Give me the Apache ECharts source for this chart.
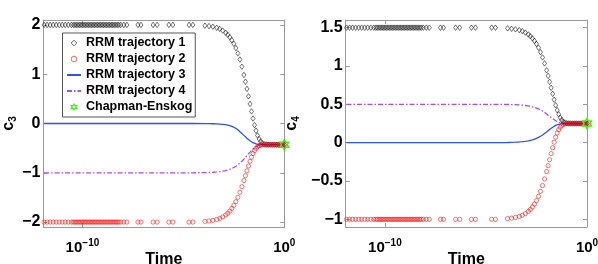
<!DOCTYPE html>
<html>
<head>
<meta charset="utf-8">
<script src="https://cdn.jsdelivr.net/npm/echarts@6/dist/echarts.min.js"></script>
<style>
html,body{margin:0;padding:0;background:#fff;}
#chart{width:598px;height:264px;}
</style>
</head>
<body>
<div id="chart"></div>
<script>
// ---- data ----
const time = [
  1.26e-12, 1.78e-12, 2.51e-12, 3.55e-12, 5.01e-12, 7.08e-12, 1.0e-11, 1.41e-11, 2.0e-11, 2.82e-11,
  3.55e-11, 4.22e-11, 5.01e-11, 5.96e-11, 7.08e-11, 8.41e-11, 1.0e-10, 1.19e-10, 1.41e-10, 1.68e-10,
  2.0e-10, 2.37e-10, 2.82e-10, 3.35e-10, 3.98e-10, 4.73e-10, 5.62e-10, 6.68e-10, 7.94e-10, 9.44e-10,
  1.12e-9, 1.33e-9, 1.58e-9, 1.88e-9, 2.24e-9, 2.66e-9, 3.16e-9, 3.76e-9, 4.47e-9, 5.31e-9, 6.31e-9,
  7.94e-9, 1.12e-8, 1.58e-8,
  5.62e-8, 7.94e-8, 3.16e-7, 5.01e-7, 1.91e-6, 3.02e-6, 1.91e-5, 2.95e-5,
  1.17e-4, 1.86e-4, 2.88e-4,
  4.47e-4, 6.31e-4, 8.91e-4, 1.26e-3, 1.58e-3, 2.0e-3, 2.51e-3, 3.16e-3, 3.98e-3, 5.01e-3,
  6.31e-3, 7.94e-3, 0.01, 0.0119, 0.0141, 0.0168, 0.02, 0.0237, 0.0282, 0.0335,
  0.0398, 0.0473, 0.0562, 0.0668, 0.0794, 0.1,
  0.126, 0.158, 0.2, 0.251, 0.316, 0.398, 0.501, 0.631, 0.794, 1.0
];

const c3Traj1 = [
  2,2,2,2,2,2,2,2,2,2, 2,2,2,2,2,2,2,2,2,2, 2,2,2,2,2,2,2,2,2,2, 2,2,2,2,2,2,2,2,2,2, 2,2,2,2, 2,2,2,2,2,2,2,2,
  1.985, 1.976, 1.963,
  1.942, 1.919, 1.886, 1.840, 1.800, 1.752, 1.691, 1.618, 1.530, 1.423,
  1.298, 1.152, 0.985, 0.848, 0.702, 0.551, 0.396, 0.245, 0.100, -0.033,
  -0.147, -0.242, -0.314, -0.364, -0.397, -0.419,
  -0.427, -0.43, -0.43, -0.43, -0.43, -0.43, -0.43, -0.43, -0.43, -0.43
];
const c3Traj2 = [
  -2,-2,-2,-2,-2,-2,-2,-2,-2,-2, -2,-2,-2,-2,-2,-2,-2,-2,-2,-2, -2,-2,-2,-2,-2,-2,-2,-2,-2,-2, -2,-2,-2,-2,-2,-2,-2,-2,-2,-2, -2,-2,-2,-2, -2,-2,-2,-2,-2,-2,-2,-2,
  -1.986, -1.978, -1.966,
  -1.947, -1.926, -1.896, -1.855, -1.820, -1.777, -1.724, -1.661, -1.586, -1.498,
  -1.396, -1.282, -1.158, -1.059, -0.960, -0.862, -0.768, -0.683, -0.610, -0.549,
  -0.503, -0.471, -0.451, -0.439, -0.433, -0.431,
  -0.43, -0.43, -0.43, -0.43, -0.43, -0.43, -0.43, -0.43, -0.43, -0.43
];
const c3Traj3 = [
  0,0,0,0,0,0,0,0,0,0, 0,0,0,0,0,0,0,0,0,0, 0,0,0,0,0,0,0,0,0,0, 0,0,0,0,0,0,0,0,0,0, 0,0,0,0, 0,0,0,0,0,0,0,0,
  -0.002, -0.003, -0.005,
  -0.008, -0.011, -0.016, -0.024, -0.032, -0.043, -0.057, -0.075, -0.098, -0.128,
  -0.168, -0.205, -0.241, -0.270, -0.298, -0.324, -0.349, -0.370, -0.389, -0.404,
  -0.414, -0.422, -0.426, -0.428, -0.429, -0.43,
  -0.43, -0.43, -0.43, -0.43, -0.43, -0.43, -0.43, -0.43, -0.43, -0.43
];
const c3Traj4 = [
  -1,-1,-1,-1,-1,-1,-1,-1,-1,-1, -1,-1,-1,-1,-1,-1,-1,-1,-1,-1, -1,-1,-1,-1,-1,-1,-1,-1,-1,-1, -1,-1,-1,-1,-1,-1,-1,-1,-1,-1, -1,-1,-1,-1, -1,-1,-1,-1,-1,-1,-1,-1,
  -0.996, -0.993, -0.989,
  -0.983, -0.977, -0.967, -0.954, -0.943, -0.929, -0.912, -0.892, -0.867, -0.838,
  -0.804, -0.766, -0.723, -0.688, -0.652, -0.616, -0.581, -0.547, -0.517, -0.491,
  -0.470, -0.454, -0.443, -0.437, -0.433, -0.431,
  -0.43, -0.43, -0.43, -0.43, -0.43, -0.43, -0.43, -0.43, -0.43, -0.43
];

const c4Traj1 = [
  1.5,1.5,1.5,1.5,1.5,1.5,1.5,1.5,1.5,1.5, 1.5,1.5,1.5,1.5,1.5,1.5,1.5,1.5,1.5,1.5, 1.5,1.5,1.5,1.5,1.5,1.5,1.5,1.5,1.5,1.5, 1.5,1.5,1.5,1.5,1.5,1.5,1.5,1.5,1.5,1.5, 1.5,1.5,1.5,1.5, 1.5,1.5,1.5,1.5,1.5,1.5,1.5,1.5,
  1.491, 1.486, 1.479,
  1.468, 1.455, 1.436, 1.411, 1.389, 1.361, 1.328, 1.288, 1.239, 1.181,
  1.112, 1.034, 0.944, 0.871, 0.794, 0.716, 0.637, 0.560, 0.488, 0.424,
  0.370, 0.327, 0.296, 0.275, 0.262, 0.254,
  0.251, 0.25, 0.25, 0.25, 0.25, 0.25, 0.25, 0.25, 0.25, 0.25
];
const c4Traj2 = [
  -1,-1,-1,-1,-1,-1,-1,-1,-1,-1, -1,-1,-1,-1,-1,-1,-1,-1,-1,-1, -1,-1,-1,-1,-1,-1,-1,-1,-1,-1, -1,-1,-1,-1,-1,-1,-1,-1,-1,-1, -1,-1,-1,-1, -1,-1,-1,-1,-1,-1,-1,-1,
  -0.990, -0.984, -0.975,
  -0.962, -0.947, -0.926, -0.896, -0.871, -0.839, -0.801, -0.755, -0.700, -0.635,
  -0.559, -0.473, -0.377, -0.301, -0.222, -0.143, -0.066, 0.006, 0.071, 0.126,
  0.170, 0.202, 0.224, 0.238, 0.245, 0.249,
  0.25, 0.25, 0.25, 0.25, 0.25, 0.25, 0.25, 0.25, 0.25, 0.25
];
const c4Traj3 = [
  0,0,0,0,0,0,0,0,0,0, 0,0,0,0,0,0,0,0,0,0, 0,0,0,0,0,0,0,0,0,0, 0,0,0,0,0,0,0,0,0,0, 0,0,0,0, 0,0,0,0,0,0,0,0,
  0.002, 0.004, 0.006,
  0.009, 0.013, 0.018, 0.024, 0.030, 0.037, 0.046, 0.057, 0.069, 0.084,
  0.100, 0.119, 0.139, 0.155, 0.171, 0.186, 0.201, 0.214, 0.225, 0.234,
  0.240, 0.245, 0.247, 0.249, 0.2496, 0.25,
  0.25, 0.25, 0.25, 0.25, 0.25, 0.25, 0.25, 0.25, 0.25, 0.25
];
const c4Traj4 = [
  0.5,0.5,0.5,0.5,0.5,0.5,0.5,0.5,0.5,0.5, 0.5,0.5,0.5,0.5,0.5,0.5,0.5,0.5,0.5,0.5, 0.5,0.5,0.5,0.5,0.5,0.5,0.5,0.5,0.5,0.5, 0.5,0.5,0.5,0.5,0.5,0.5,0.5,0.5,0.5,0.5, 0.5,0.5,0.5,0.5, 0.5,0.5,0.5,0.5,0.5,0.5,0.5,0.5,
  0.498, 0.497, 0.495,
  0.492, 0.489, 0.485, 0.479, 0.474, 0.468, 0.460, 0.451, 0.440, 0.427,
  0.412, 0.395, 0.375, 0.360, 0.344, 0.329, 0.313, 0.299, 0.286, 0.275,
  0.266, 0.260, 0.255, 0.253, 0.251, 0.250,
  0.25, 0.25, 0.25, 0.25, 0.25, 0.25, 0.25, 0.25, 0.25, 0.25
];

const ceTime = [1.0];
const c3CE = [-0.43];
const c4CE = [0.25];

const seriesNames = ['RRM trajectory 1', 'RRM trajectory 2', 'RRM trajectory 3', 'RRM trajectory 4', 'Chapman-Enskog'];
const c3Ticks = [-2, -1, 0, 1, 2];
const c4Ticks = [-1, -0.5, 0, 0.5, 1, 1.5];
const xTicks = [1e-10, 1];

// ---- chart ----
const FONT = '"Liberation Sans", Arial, Helvetica, sans-serif';
const AXIS_GRAY = '#9a9a9a';
const X_MIN = 1.15e-12, X_MAX = 1;
const HEX = 'path://M0,-10L-2.89,-5L-8.66,-5L-5.77,0L-8.66,5L-2.89,5L0,10L2.89,5L8.66,5L5.77,0L8.66,-5L2.89,-5Z';
const GREEN = '#44ee11';

function pairs(xs, ys) { return xs.map((x, i) => [x, ys[i]]); }
function minus(s) { return String(s).replace('-', '\u2212'); }

function mkX(grid, pos, labels) {
  return {
    type: 'log', logBase: 1e10, gridIndex: grid, position: pos,
    min: X_MIN, max: X_MAX,
    axisLine: { show: true, onZero: false, lineStyle: { color: AXIS_GRAY, width: 1 } },
    axisTick: { show: true, inside: true, length: 4, lineStyle: { color: AXIS_GRAY } },
    minorTick: { show: false }, splitLine: { show: false },
    axisLabel: labels ? {
      show: true, margin: 11, showMinLabel: false, showMaxLabel: true,
      formatter: v => { const e = Math.round(Math.log10(v)); return '{b|10}{s|' + minus(e) + '}'; },
      rich: {
        b: { fontSize: 15, fontWeight: 'bold', fontFamily: FONT, color: '#000', lineHeight: 20 },
        s: { fontSize: 10, fontWeight: 'bold', fontFamily: FONT, color: '#000', lineHeight: 10, verticalAlign: 'top' }
      }
    } : { show: false },
    name: labels ? 'Time' : '', nameLocation: 'middle', nameGap: 25, nameMoveOverlap: false,
    nameTextStyle: { fontSize: 16, fontWeight: 'bold', fontFamily: FONT, color: '#000' }
  };
}
function mkY(grid, pos, labels, min, max, ticks, sub, gap) {
  return {
    type: 'value', gridIndex: grid, position: pos, min: min, max: max,
    axisLine: { show: true, onZero: false, lineStyle: { color: AXIS_GRAY, width: 1 } },
    axisTick: { show: true, inside: true, length: 4, customValues: ticks, lineStyle: { color: AXIS_GRAY } },
    splitLine: { show: false },
    axisLabel: labels ? {
      show: true, customValues: ticks, margin: 3,
      formatter: v => minus(v),
      fontSize: 16, fontWeight: 'bold', fontFamily: FONT, color: '#000'
    } : { show: false },
    name: labels ? '{c|c}{s|' + sub + '}' : '', nameLocation: 'middle', nameGap: gap, nameRotate: 90,
    nameMoveOverlap: false,
    nameTextStyle: {
      rich: {
        c: { fontSize: 16, fontWeight: 'bold', fontFamily: FONT, color: '#000', lineHeight: 20 },
        s: { fontSize: 10, fontWeight: 'bold', fontFamily: FONT, color: '#000', lineHeight: 10, verticalAlign: 'bottom' }
      }
    }
  };
}

function markers(name, xi, yi, data, symbol, size, color) {
  return {
    type: 'line', name: name, xAxisIndex: xi, yAxisIndex: yi, data: data,
    symbol: symbol, symbolSize: size, showSymbol: true,
    lineStyle: { width: 0, color: 'rgba(0,0,0,0)' },
    itemStyle: { color: 'rgba(0,0,0,0)', borderColor: color, borderWidth: 0.55 },
    emphasis: { disabled: true }, silent: true, animation: false
  };
}
function curve(name, xi, yi, data, color, type) {
  return {
    type: 'line', name: name, xAxisIndex: xi, yAxisIndex: yi, data: data,
    symbol: 'none', showSymbol: false,
    lineStyle: { width: 1.3, color: color, type: type },
    itemStyle: { color: color },
    emphasis: { disabled: true }, silent: true, animation: false
  };
}
function star(name, xi, yi, data) {
  return {
    type: 'line', name: name, xAxisIndex: xi, yAxisIndex: yi, data: data,
    symbol: HEX, symbolSize: 10, symbolKeepAspect: true, showSymbol: true, clip: false,
    lineStyle: { width: 0, color: 'rgba(0,0,0,0)' },
    itemStyle: { color: 'rgba(0,0,0,0)', borderColor: GREEN, borderWidth: 1.5 },
    emphasis: { disabled: true }, silent: true, animation: false, z: 5
  };
}

const BLUE = '#3050f8', PURPLE = '#a64dff';
const DASHDOT = [5, 2, 1.5, 2];

const series = [
  markers(seriesNames[0], 0, 0, pairs(time, c3Traj1), 'diamond', [4, 5.5], '#000'),
  markers(seriesNames[1], 0, 0, pairs(time, c3Traj2), 'circle', 4.2, '#ff0000'),
  curve(seriesNames[2], 0, 0, pairs(time, c3Traj3), BLUE, 'solid'),
  curve(seriesNames[3], 0, 0, pairs(time, c3Traj4), PURPLE, DASHDOT),
  star(seriesNames[4], 0, 0, pairs(ceTime, c3CE)),
  markers(seriesNames[0], 2, 2, pairs(time, c4Traj1), 'diamond', [4, 5.5], '#000'),
  markers(seriesNames[1], 2, 2, pairs(time, c4Traj2), 'circle', 4.2, '#ff0000'),
  curve(seriesNames[2], 2, 2, pairs(time, c4Traj3), BLUE, 'solid'),
  curve(seriesNames[3], 2, 2, pairs(time, c4Traj4), PURPLE, DASHDOT),
  star(seriesNames[4], 2, 2, pairs(ceTime, c4CE))
];

const option = {
  animation: false,
  backgroundColor: '#fff',
  grid: [
    { left: 43.3, top: 20, width: 241, height: 207, containLabel: false, outerBoundsMode: 'none' },
    { left: 345.7, top: 20, width: 241.3, height: 207, containLabel: false, outerBoundsMode: 'none' }
  ],
  xAxis: [mkX(0, 'bottom', true), mkX(0, 'top', false), mkX(1, 'bottom', true), mkX(1, 'top', false)],
  yAxis: [
    mkY(0, 'left', true, -2.1, 2.1, c3Ticks, '3', 25),
    mkY(0, 'right', false, -2.1, 2.1, c3Ticks, '', 0),
    mkY(1, 'left', true, -1.1, 1.6, c4Ticks, '4', 44),
    mkY(1, 'right', false, -1.1, 1.6, c4Ticks, '', 0)
  ],
  legend: {
    show: true, orient: 'vertical', left: 62.5, top: 33,
    padding: [3, 3, 3, 3.5], itemGap: 2, itemWidth: 14, itemHeight: 7,
    borderColor: '#555', borderWidth: 1, backgroundColor: '#fff',
    selectedMode: false,
    textStyle: { fontSize: 12.5, fontWeight: 'bold', fontFamily: FONT, color: '#000', lineHeight: 14 },
    data: [
      { name: seriesNames[0], itemStyle: { color: 'rgba(0,0,0,0)', borderColor: '#000', borderWidth: 0.6 } },
      { name: seriesNames[1], itemStyle: { color: 'rgba(0,0,0,0)', borderColor: '#ff0000', borderWidth: 0.6 } },
      { name: seriesNames[2], itemStyle: { opacity: 0 } },
      { name: seriesNames[3], itemStyle: { opacity: 0 } },
      { name: seriesNames[4], itemStyle: { color: 'rgba(0,0,0,0)', borderColor: GREEN, borderWidth: 1.2 } }
    ]
  },
  series: series
};

const chart = echarts.init(document.getElementById('chart'), null, { renderer: 'canvas' });
chart.setOption(option);
</script>
</body>
</html>
